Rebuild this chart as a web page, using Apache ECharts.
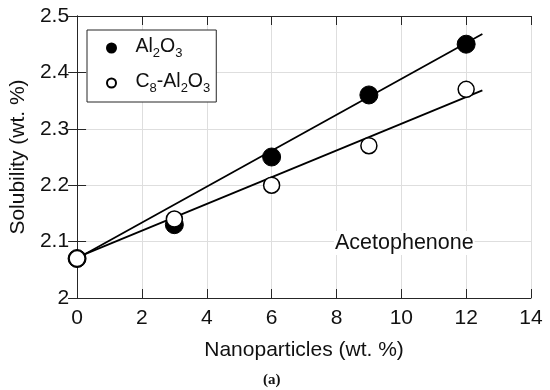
<!DOCTYPE html>
<html>
<head>
<meta charset="utf-8">
<script src="https://cdn.jsdelivr.net/npm/echarts@6/dist/echarts.min.js"></script>
<style>html,body{margin:0;padding:0;background:#fff}#c{width:550px;height:390px}</style>
</head>
<body>
<div id="c"></div>
<script>
var xTicks = [0, 2, 4, 6, 8, 10, 12, 14];
var yTicks = [2, 2.1, 2.2, 2.3, 2.4, 2.5];
var loading = [0, 3, 6, 9, 12];
var solAl2O3 = [2.07, 2.13, 2.25, 2.36, 2.45];
var solC8Al2O3 = [2.07, 2.14, 2.20, 2.27, 2.37];
var fitX = [0, 12.5];
var fitAl2O3 = [2.070, 2.468];
var fitC8Al2O3 = [2.072, 2.368];
var seriesNames = ['Al2O3', 'C8-Al2O3'];
var legendRich = {
  'Al2O3': '{t|Al}{s|2}{t|O}{s|3}',
  'C8-Al2O3': '{t|C}{s|8}{t|-Al}{s|2}{t|O}{s|3}'
};
var solvent = 'Acetophenone';
var xName = 'Nanoparticles (wt. %)';
var yName = 'Solubility (wt. %)';
var panel = '(a)';

function pairs(xs, ys) { return xs.map(function (x, i) { return [x, ys[i]]; }); }

var FONT = 'Liberation Sans, Arial, Helvetica, sans-serif';
var INK = '#262626';
var chart = echarts.init(document.getElementById('c'), null, {renderer: 'canvas'});
var axisCommon = {
  type: 'value',
  axisLine: {show: true, lineStyle: {color: INK, width: 1}},
  axisTick: {show: true, inside: true, length: 9, lineStyle: {color: INK, width: 1}}
};
chart.setOption({
  animation: false,
  backgroundColor: '#fff',
  grid: {left: 73, right: 19, top: 16, bottom: 92},
  legend: {
    orient: 'vertical',
    left: 87, top: 30,
    padding: [7, 6, 7, 19],
    itemGap: 12,
    itemWidth: 38, itemHeight: 9,
    borderColor: INK, borderWidth: 1,
    backgroundColor: '#fff',
    data: seriesNames,
    formatter: function (n) { return legendRich[n]; },
    textStyle: {
      color: '#111', fontFamily: FONT,
      rich: {
        t: {fontSize: 19.5, lineHeight: 22, verticalAlign: 'top', fontFamily: FONT, color: '#111'},
        s: {fontSize: 13, lineHeight: 12, padding: [10, 0, 0, 0], verticalAlign: 'top', fontFamily: FONT, color: '#111'}
      }
    }
  },
  xAxis: [
    Object.assign({}, axisCommon, {
      min: xTicks[0], max: xTicks[xTicks.length - 1], interval: 2,
      position: 'bottom',
      name: xName, nameLocation: 'middle', nameGap: 42,
      nameTextStyle: {fontSize: 21, color: '#111', fontFamily: FONT},
      axisLabel: {fontSize: 21, color: '#111', margin: 10, fontFamily: FONT},
      splitLine: {show: true, lineStyle: {color: '#dedede', width: 1}}
    }),
    Object.assign({}, axisCommon, {
      min: xTicks[0], max: xTicks[xTicks.length - 1], interval: 2,
      position: 'top', axisLabel: {show: false}, splitLine: {show: false}
    })
  ],
  yAxis: [
    Object.assign({}, axisCommon, {
      min: yTicks[0], max: yTicks[yTicks.length - 1], interval: 0.1,
      position: 'left',
      name: yName, nameLocation: 'middle', nameGap: 38,
      nameTextStyle: {fontSize: 21, color: '#111', fontFamily: FONT},
      axisLabel: {fontSize: 21, color: '#111', margin: 8, fontFamily: FONT,
        formatter: function (v) { return String(+v.toFixed(1)); }},
      splitLine: {show: true, lineStyle: {color: '#dedede', width: 1}}
    }),
    Object.assign({}, axisCommon, {
      min: yTicks[0], max: yTicks[yTicks.length - 1], interval: 0.1,
      position: 'right', axisLabel: {show: false}, splitLine: {show: false}
    })
  ],
  series: [
    {type: 'line', name: 'fit1', data: pairs(fitX, fitAl2O3), showSymbol: false, symbol: 'none',
      lineStyle: {color: '#000', width: 1.8}, z: 1, silent: true},
    {type: 'line', name: 'fit2', data: pairs(fitX, fitC8Al2O3), showSymbol: false, symbol: 'none',
      lineStyle: {color: '#000', width: 1.8}, z: 1, silent: true},
    {type: 'scatter', name: seriesNames[0], data: pairs(loading, solAl2O3), symbol: 'circle', symbolSize: 18,
      itemStyle: {color: '#000', borderColor: '#000', borderWidth: 1, opacity: 1}, z: 3},
    {type: 'scatter', name: seriesNames[1], data: pairs(loading, solC8Al2O3), symbol: 'circle', symbolSize: 16,
      itemStyle: {color: '#fff', borderColor: '#000', borderWidth: 1.5, opacity: 1}, z: 4}
  ],
  graphic: [
    {type: 'text', left: 334, top: 231, z: 100,
      style: {text: solvent, fontSize: 21.5, fontFamily: FONT, fill: '#111', backgroundColor: '#fff', padding: [1, 1, 1, 1]}},
    {type: 'text', left: 263, top: 373, z: 100,
      style: {text: panel, font: 'bold 15px "Liberation Serif", "Times New Roman", serif', fill: '#111'}}
  ]
});
</script>
</body>
</html>
